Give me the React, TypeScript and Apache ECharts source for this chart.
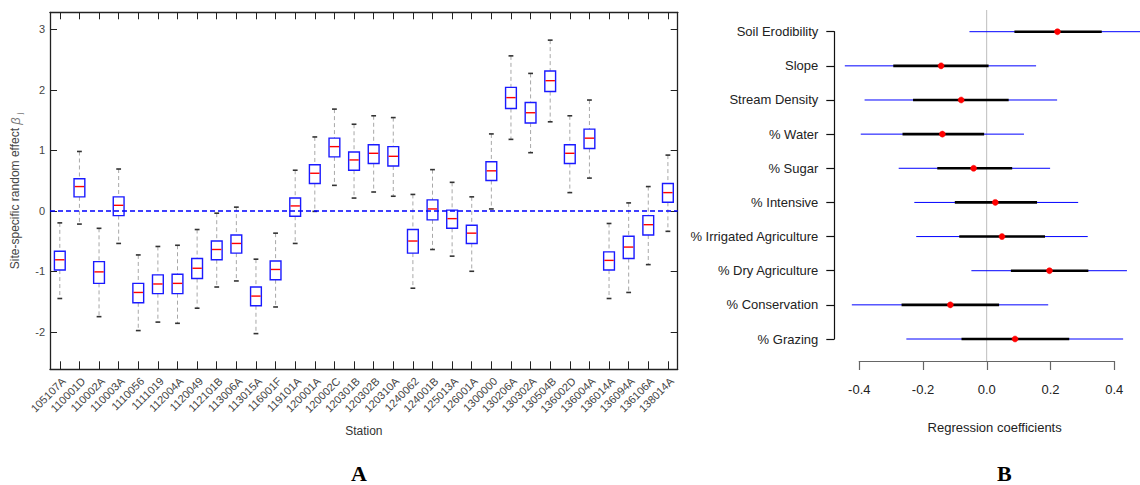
import React, { useEffect, useRef } from 'react';
import * as echarts from 'echarts';

// ---------- Panel A: site-specific random effects ----------
const stations = [
  '105107A', '110001D', '110002A', '110003A', '1110056', '1111019', '112004A', '1120049',
  '112101B', '113006A', '113015A', '116001F', '119101A', '120001A', '120002C', '120301B',
  '120302B', '120310A', '1240062', '124001B', '125013A', '126001A', '1300000', '130206A',
  '130302A', '130504B', '136002D', '136004A', '136014A', '136094A', '136106A', '138014A',
];
const whiskerLow = [
  -1.45, -0.22, -1.75, -0.54, -1.98, -1.84, -1.86, -1.61,
  -1.26, -1.16, -2.03, -1.59, -0.54, -0.01, 0.42, 0.21,
  0.31, 0.24, -1.28, -0.64, -0.75, -1.0, 0.03, 1.18,
  0.96, 1.47, 0.3, 0.54, -1.45, -1.35, -0.89, -0.34,
];
const quartile1 = [
  -0.98, 0.23, -1.2, -0.08, -1.52, -1.37, -1.37, -1.12,
  -0.81, -0.7, -1.57, -1.14, -0.09, 0.45, 0.89, 0.67,
  0.78, 0.74, -0.7, -0.15, -0.29, -0.54, 0.5, 1.69,
  1.45, 1.97, 0.78, 1.03, -0.98, -0.79, -0.4, 0.14,
];
const medians = [
  -0.81, 0.4, -1.01, 0.09, -1.35, -1.21, -1.2, -0.95,
  -0.64, -0.54, -1.41, -0.97, 0.08, 0.62, 1.06, 0.84,
  0.95, 0.9, -0.5, 0.03, -0.13, -0.37, 0.66, 1.87,
  1.62, 2.15, 0.95, 1.2, -0.82, -0.6, -0.23, 0.3,
];
const quartile3 = [
  -0.67, 0.53, -0.84, 0.23, -1.2, -1.06, -1.05, -0.79,
  -0.5, -0.4, -1.26, -0.83, 0.21, 0.76, 1.2, 0.97,
  1.09, 1.06, -0.31, 0.18, 0.01, -0.24, 0.81, 2.04,
  1.79, 2.31, 1.09, 1.35, -0.68, -0.42, -0.08, 0.45,
];
const whiskerHigh = [
  -0.2, 0.98, -0.29, 0.69, -0.73, -0.59, -0.57, -0.31,
  -0.04, 0.06, -0.8, -0.37, 0.67, 1.22, 1.68, 1.43,
  1.57, 1.54, 0.27, 0.68, 0.47, 0.23, 1.27, 2.56,
  2.27, 2.82, 1.57, 1.83, -0.21, 0.13, 0.4, 0.92,
];

// ---------- Panel B: regression coefficients ----------
const covariates = [
  'Soil Erodibility', 'Slope', 'Stream Density', '% Water', '% Sugar',
  '% Intensive', '% Irrigated Agriculture', '% Dry Agriculture', '% Conservation', '% Grazing',
];
const ci95Low = [-0.054, -0.445, -0.383, -0.395, -0.276, -0.227, -0.221, -0.048, -0.423, -0.252];
const ci50Low = [0.087, -0.293, -0.231, -0.264, -0.155, -0.1, -0.086, 0.076, -0.267, -0.079];
const estimate = [0.222, -0.143, -0.08, -0.139, -0.041, 0.027, 0.048, 0.197, -0.114, 0.089];
const ci50High = [0.361, 0.006, 0.069, -0.008, 0.08, 0.158, 0.183, 0.319, 0.039, 0.259];
const ci95High = [0.5, 0.155, 0.221, 0.117, 0.199, 0.287, 0.317, 0.44, 0.193, 0.428];
const coefTicks = [-0.4, -0.2, 0.0, 0.2, 0.4];
const referenceLine = [[0, 0], [0, 1]];

const FONT = "'Liberation Sans', Arial, sans-serif";

export default function App() {
  const ref = useRef<HTMLDivElement>(null);

  useEffect(() => {
    const chart = echarts.init(ref.current as HTMLDivElement, null, { renderer: 'svg' });

    const boxData = stations.map((_, i) => [
      i, whiskerLow[i], quartile1[i], medians[i], quartile3[i], whiskerHigh[i],
    ]);
    const forestData = covariates.map((_, i) => [
      i, ci95Low[i], ci50Low[i], estimate[i], ci50High[i], ci95High[i],
    ]);

    const frameLine = { show: true, onZero: false, lineStyle: { color: '#222', width: 1.3 } };
    const yMin = -2.62;
    const yMax = 3.28;
    const xMinB = -0.478;
    const xMaxB = 0.528;

    const option: any = {
      animation: false,
      backgroundColor: '#fff',
      textStyle: { fontFamily: FONT },
      grid: [
        { left: 50, top: 12.3, width: 627.7, height: 357, outerBoundsMode: 'none' },
        { left: 834.3, top: 31.7, width: 320.7, height: 307.3, outerBoundsMode: 'none' },
        { left: 834.3, top: 10, width: 320.7, height: 351, outerBoundsMode: 'none' },
        { left: 859.3, top: 355, width: 255, height: 6, outerBoundsMode: 'none' },
      ],
      xAxis: [
        {
          gridIndex: 0, type: 'category', position: 'bottom', data: stations, boundaryGap: true,
          axisLine: frameLine,
          axisTick: { show: true, inside: true, length: 8, alignWithLabel: true, interval: 0, lineStyle: { color: '#222' } },
          axisLabel: {
            interval: 0, rotate: 45, fontSize: 11, color: '#444', margin: 6, fontFamily: FONT,
            verticalAlign: 'top',
          },
          splitLine: { show: false },
          name: 'Station', nameLocation: 'middle', nameGap: 56, nameMoveOverlap: false,
          nameTextStyle: { fontSize: 12, color: '#333', fontFamily: FONT },
        },
        {
          gridIndex: 0, type: 'category', position: 'top', data: stations, boundaryGap: true,
          axisLine: frameLine,
          axisTick: { show: true, inside: true, length: 7, alignWithLabel: true, interval: 0, lineStyle: { color: '#222' } },
          axisLabel: { show: false },
          splitLine: { show: false },
        },
        {
          gridIndex: 1, type: 'value', min: xMinB, max: xMaxB, show: false,
        },
        {
          gridIndex: 2, type: 'value', min: xMinB, max: xMaxB,
          axisLine: { show: false }, axisTick: { show: false }, axisLabel: { show: false }, splitLine: { show: false },
          name: 'Regression coefficients', nameLocation: 'middle', nameGap: 60, nameMoveOverlap: false,
          nameTextStyle: { fontSize: 13, color: '#222', fontFamily: FONT },
        },
        {
          gridIndex: 3, type: 'value', min: -0.4, max: 0.4, interval: 0.2,
          axisLine: { show: true, onZero: false, lineStyle: { color: '#666', width: 1.2 } },
          axisTick: { show: true, length: 9, lineStyle: { color: '#666', width: 1.2 } },
          axisLabel: {
            fontSize: 13, color: '#222', margin: 22, fontFamily: FONT,
            formatter: (v: number) => {
              const t = coefTicks.find((c) => Math.abs(c - v) < 1e-6);
              return t === undefined ? '' : t.toFixed(1);
            },
          },
          splitLine: { show: false },
        },
      ],
      yAxis: [
        {
          gridIndex: 0, type: 'value', position: 'left', min: yMin, max: yMax, splitNumber: 6,
          axisLine: frameLine,
          axisTick: { show: true, inside: true, length: 7, lineStyle: { color: '#222' } },
          axisLabel: {
            fontSize: 11, color: '#444', margin: 5, fontFamily: FONT, showMinLabel: false, showMaxLabel: false,
            formatter: (v: number) => (Math.abs(v - Math.round(v)) < 1e-6 ? String(Math.round(v)) : ''),
          },
          splitLine: { show: false },
          name: 'Site-specific random effect {b|β}{s|j}',
          nameLocation: 'middle', nameRotate: 90, nameGap: 27, nameMoveOverlap: false,
          nameTextStyle: {
            fontSize: 12, color: '#444', fontFamily: FONT, lineHeight: 16,
            rich: {
              b: { fontSize: 13, fontStyle: 'italic', color: '#777', lineHeight: 16, fontFamily: FONT },
              s: { fontSize: 8, color: '#777', verticalAlign: 'bottom', lineHeight: 16, padding: [0, 0, 0, 3], fontFamily: FONT },
            },
          },
        },
        {
          gridIndex: 0, type: 'value', position: 'right', min: yMin, max: yMax, splitNumber: 6,
          axisLine: frameLine,
          axisTick: { show: true, inside: true, length: 7, lineStyle: { color: '#222' } },
          axisLabel: { show: false },
          splitLine: { show: false },
        },
        {
          gridIndex: 1, type: 'category', data: covariates, inverse: true, boundaryGap: false,
          axisLine: { show: true, onZero: false, lineStyle: { color: '#111', width: 1.2 } },
          axisTick: { show: true, length: 8, interval: 0, lineStyle: { color: '#111', width: 1.2 } },
          axisLabel: { interval: 0, fontSize: 13, color: '#222', margin: 16, fontFamily: FONT },
          splitLine: { show: false },
        },
        {
          gridIndex: 2, type: 'value', min: 0, max: 1, show: false,
        },
        {
          gridIndex: 3, type: 'value', min: 0, max: 1, show: false,
        },
      ],
      series: [
        {
          type: 'custom',
          xAxisIndex: 0,
          yAxisIndex: 0,
          data: boxData,
          encode: { x: 0, y: [1, 2, 3, 4, 5] },
          z: 3,
          renderItem: (_params: any, api: any) => {
            const i = api.value(0);
            const pLow = api.coord([i, api.value(1)]);
            const pQ1 = api.coord([i, api.value(2)]);
            const pMed = api.coord([i, api.value(3)]);
            const pQ3 = api.coord([i, api.value(4)]);
            const pHigh = api.coord([i, api.value(5)]);
            const band = api.size([1, 0])[0];
            const bw = band * 0.55;
            const cx = pMed[0];
            const cap = 2.4;
            const dash = { stroke: '#a8a8a8', lineWidth: 1, lineDash: [4, 3], fill: null };
            const capStyle = { stroke: '#333', lineWidth: 1.6 };
            return {
              type: 'group',
              children: [
                { type: 'line', shape: { x1: cx, y1: pHigh[1], x2: cx, y2: pQ3[1] }, style: dash },
                { type: 'line', shape: { x1: cx, y1: pQ1[1], x2: cx, y2: pLow[1] }, style: dash },
                { type: 'line', shape: { x1: cx - cap, y1: pHigh[1], x2: cx + cap, y2: pHigh[1] }, style: capStyle },
                { type: 'line', shape: { x1: cx - cap, y1: pLow[1], x2: cx + cap, y2: pLow[1] }, style: capStyle },
                {
                  type: 'rect',
                  shape: { x: cx - bw / 2, y: pQ3[1], width: bw, height: pQ1[1] - pQ3[1] },
                  style: { fill: 'rgba(255,255,255,0)', stroke: '#1a1aff', lineWidth: 1.4 },
                },
                {
                  type: 'line',
                  shape: { x1: cx - bw / 2 + 0.7, y1: pMed[1], x2: cx + bw / 2 - 0.7, y2: pMed[1] },
                  style: { stroke: '#ff0000', lineWidth: 1.4 },
                },
              ],
            };
          },
          markLine: {
            silent: true,
            symbol: ['none', 'none'],
            label: { show: false },
            lineStyle: { color: '#0000ff', type: [5, 3], width: 1.5 },
            data: [{ yAxis: 0 }],
          },
        },
        {
          type: 'line',
          xAxisIndex: 3,
          yAxisIndex: 3,
          data: referenceLine,
          symbol: 'none',
          silent: true,
          z: 1,
          lineStyle: { color: '#bdbdbd', width: 1 },
        },
        {
          type: 'custom',
          xAxisIndex: 2,
          yAxisIndex: 2,
          data: forestData,
          encode: { y: 0, x: [1, 2, 3, 4, 5] },
          z: 3,
          clip: false,
          renderItem: (_params: any, api: any) => {
            const k = api.value(0);
            const a95 = api.coord([api.value(1), k]);
            const a50 = api.coord([api.value(2), k]);
            const m = api.coord([api.value(3), k]);
            const b50 = api.coord([api.value(4), k]);
            const b95 = api.coord([api.value(5), k]);
            return {
              type: 'group',
              children: [
                { type: 'line', shape: { x1: a95[0], y1: a95[1], x2: b95[0], y2: b95[1] }, style: { stroke: '#0000ff', lineWidth: 1 } },
                { type: 'line', shape: { x1: a50[0], y1: a50[1], x2: b50[0], y2: b50[1] }, style: { stroke: '#000', lineWidth: 2.6 } },
                { type: 'circle', shape: { cx: m[0], cy: m[1], r: 3 }, style: { fill: '#ff0000', stroke: '#ff0000', lineWidth: 0.5 } },
              ],
            };
          },
        },
      ],
      graphic: [
        {
          type: 'text', left: 351, top: 462,
          style: { text: 'A', fontFamily: "'Liberation Serif', 'Times New Roman', serif", fontWeight: 'bold', fontSize: 22, fill: '#000' },
        },
        {
          type: 'text', left: 997, top: 462,
          style: { text: 'B', fontFamily: "'Liberation Serif', 'Times New Roman', serif", fontWeight: 'bold', fontSize: 22, fill: '#000' },
        },
      ],
    };

    chart.setOption(option);
    return () => chart.dispose();
  }, []);

  return (
    <div
      ref={ref}
      style={{ position: 'absolute', left: 0, top: 0, width: 1140, height: 485, background: '#fff' }}
    />
  );
}
